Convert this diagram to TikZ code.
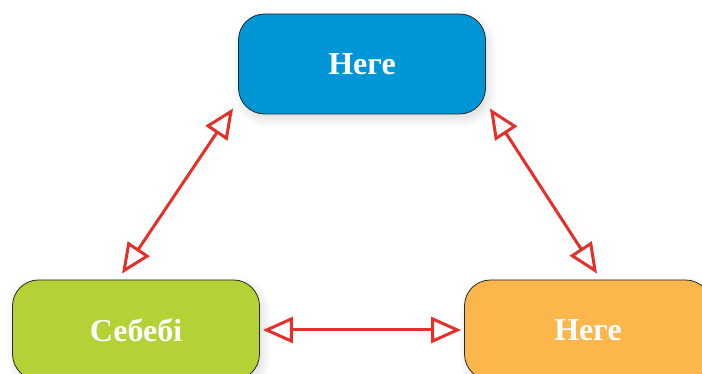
\documentclass[tikz,border=0pt]{standalone}
\usepackage{fontspec}
\setmainfont{Liberation Serif}
\usetikzlibrary{arrows.meta, calc, shadows.blur}
\definecolor{boxblue}{HTML}{0096D6}
\definecolor{boxgreen}{HTML}{B2D235}
\definecolor{boxorange}{HTML}{FBB74B}
\definecolor{arrowred}{HTML}{E5302A}
\begin{document}
\begin{tikzpicture}[x = 1pt, y = 1pt,
        box/.style = {draw = black!85, line width = 0.8pt, rounded corners = 26pt,
            minimum width = 247pt, minimum height = 100pt, text = white,
            font = \fontsize{32}{36}\selectfont\bfseries,
            blur shadow = {shadow blur steps = 10, shadow blur radius = 9pt, shadow xshift = 3pt, shadow yshift = -5pt, shadow opacity = 15}},
        link/.style = {{Triangle[open, length = 30pt, width = 26pt]}-{Triangle[open, length = 30pt, width = 26pt]},
            draw = arrowred, line width = 3pt, line join = round}]
            \useasboundingbox (0, 0) rectangle (702, 374);
            \node [box, fill = boxblue] (what) at (362, 310) {Неге};
            \node [box, fill = boxgreen] (cause) at (136, 44) {Себебі};
            \node [box, fill = boxorange] (result) at (588, 44) {Неге};
            \draw [link] ([shift = {(-5, 6)}]what.south west) -- ([shift = {(-14, 6)}]cause.north);
            \draw [link] ([shift = {(4, 6)}]what.south east) -- ([shift = {(9, 6)}]result.north);
            \draw [link] ([shift = {(3, 0)}]cause.east) -- ([shift = {(-3, 0)}]result.west);
        \end{tikzpicture}
\end{document}
